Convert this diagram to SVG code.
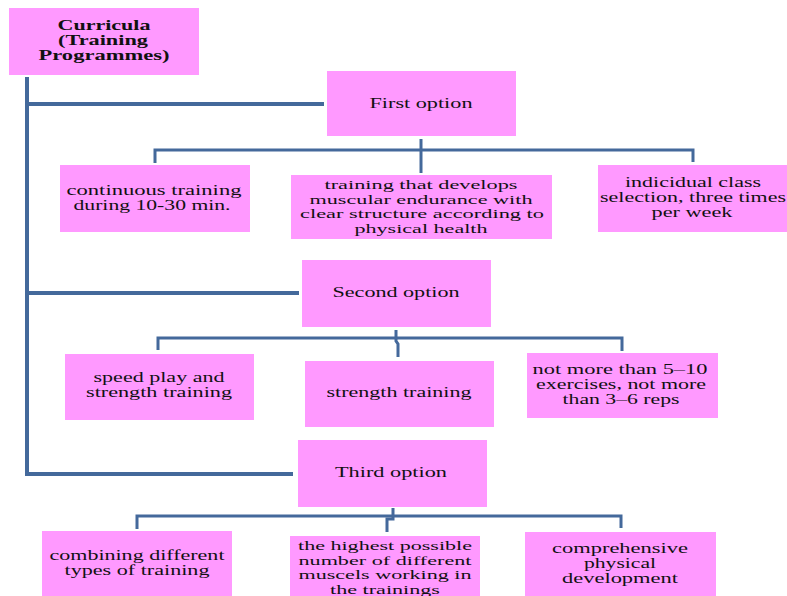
<svg xmlns="http://www.w3.org/2000/svg" width="787" height="596" viewBox="0 0 787 596">
<style>
.box{fill:#FF99FF;}
.t{font-family:"Liberation Serif","Times New Roman",serif;font-size:14px;fill:#111;text-anchor:middle;}
.s{font-size:13px;}
.b{font-weight:bold;font-size:14px;}
.ln{fill:none;stroke:#44699B;stroke-width:3;}
.main{stroke-width:4;}
</style>
<rect width="787" height="596" fill="#fff"/>
<g id="connectors">
<path class="ln main" d="M27 77 V474 H293"/>
<path class="ln main" d="M27 104 H324"/>
<path class="ln main" d="M27 293 H299"/>
<path class="ln" d="M421 139 V173"/>
<path class="ln" d="M155 163 V150 H693 V162"/>
<path class="ln" d="M396 330 V341 L398 344 V357"/>
<path class="ln" d="M158 350 V338 H622 V351"/>
<path class="ln" d="M393 508 V519 H387 V532"/>
<path class="ln" d="M137 529 V516 H621 V528"/>
</g>
<g id="root">
<rect class="box" x="9" y="8" width="190" height="67"/>
<text class="t b" x="104" y="30" textLength="93" lengthAdjust="spacingAndGlyphs">Curricula</text>
<text class="t b" x="103" y="45" textLength="90" lengthAdjust="spacingAndGlyphs">(Training</text>
<text class="t b" x="104" y="60" textLength="131" lengthAdjust="spacingAndGlyphs">Programmes)</text>
</g>
<g id="opt1">
<rect class="box" x="327" y="71" width="189" height="65"/>
<text class="t" x="421" y="108" textLength="103" lengthAdjust="spacingAndGlyphs">First option</text>
</g>
<g id="a1">
<rect class="box" x="60" y="165" width="190" height="67"/>
<text class="t" x="154" y="195" textLength="175" lengthAdjust="spacingAndGlyphs">continuous training</text>
<text class="t" x="152" y="210" textLength="157" lengthAdjust="spacingAndGlyphs">during 10-30 min.</text>
</g>
<g id="a2">
<rect class="box" x="291" y="175" width="261" height="64"/>
<text class="t s" x="421" y="189" textLength="193" lengthAdjust="spacingAndGlyphs">training that develops</text>
<text class="t s" x="421" y="203.5" textLength="223" lengthAdjust="spacingAndGlyphs">muscular endurance with</text>
<text class="t s" x="422" y="218" textLength="244" lengthAdjust="spacingAndGlyphs">clear structure according to</text>
<text class="t s" x="421" y="232.5" textLength="133" lengthAdjust="spacingAndGlyphs">physical health</text>
</g>
<g id="a3">
<rect class="box" x="598" y="165" width="189" height="67"/>
<text class="t" x="693" y="187" textLength="136" lengthAdjust="spacingAndGlyphs">indicidual class</text>
<text class="t" x="693" y="202" textLength="186" lengthAdjust="spacingAndGlyphs">selection, three times</text>
<text class="t" x="692" y="217" textLength="81" lengthAdjust="spacingAndGlyphs">per week</text>
</g>
<g id="opt2">
<rect class="box" x="302" y="260" width="189" height="67"/>
<text class="t" x="396" y="297" textLength="127" lengthAdjust="spacingAndGlyphs">Second option</text>
</g>
<g id="b1">
<rect class="box" x="65" y="354" width="189" height="66"/>
<text class="t" x="159" y="382" textLength="131" lengthAdjust="spacingAndGlyphs">speed play and</text>
<text class="t" x="159" y="397" textLength="146" lengthAdjust="spacingAndGlyphs">strength training</text>
</g>
<g id="b2">
<rect class="box" x="305" y="361" width="189" height="66"/>
<text class="t" x="399" y="397" textLength="145" lengthAdjust="spacingAndGlyphs">strength training</text>
</g>
<g id="b3">
<rect class="box" x="527" y="353" width="191" height="65"/>
<text class="t" x="620" y="374" textLength="175" lengthAdjust="spacingAndGlyphs">not more than 5–10</text>
<text class="t" x="621" y="389" textLength="170" lengthAdjust="spacingAndGlyphs">exercises, not more</text>
<text class="t" x="621" y="404" textLength="117" lengthAdjust="spacingAndGlyphs">than 3–6 reps</text>
</g>
<g id="opt3">
<rect class="box" x="298" y="440" width="189" height="67"/>
<text class="t" x="391" y="477" textLength="112" lengthAdjust="spacingAndGlyphs">Third option</text>
</g>
<g id="c1">
<rect class="box" x="42" y="531" width="190" height="65"/>
<text class="t" x="137" y="560" textLength="175" lengthAdjust="spacingAndGlyphs">combining different</text>
<text class="t" x="137" y="575" textLength="145" lengthAdjust="spacingAndGlyphs">types of training</text>
</g>
<g id="c2">
<rect class="box" x="290" y="536" width="190" height="60"/>
<text class="t s" x="385" y="550" textLength="174" lengthAdjust="spacingAndGlyphs">the highest possible</text>
<text class="t s" x="385" y="564.5" textLength="173" lengthAdjust="spacingAndGlyphs">number of different</text>
<text class="t s" x="385" y="579" textLength="173" lengthAdjust="spacingAndGlyphs">muscels working in</text>
<text class="t s" x="385" y="593.5" textLength="110" lengthAdjust="spacingAndGlyphs">the trainings</text>
</g>
<g id="c3">
<rect class="box" x="525" y="532" width="191" height="64"/>
<text class="t" x="620" y="553" textLength="136" lengthAdjust="spacingAndGlyphs">comprehensive</text>
<text class="t" x="620" y="568" textLength="72" lengthAdjust="spacingAndGlyphs">physical</text>
<text class="t" x="620" y="583" textLength="116" lengthAdjust="spacingAndGlyphs">development</text>
</g>
</svg>
